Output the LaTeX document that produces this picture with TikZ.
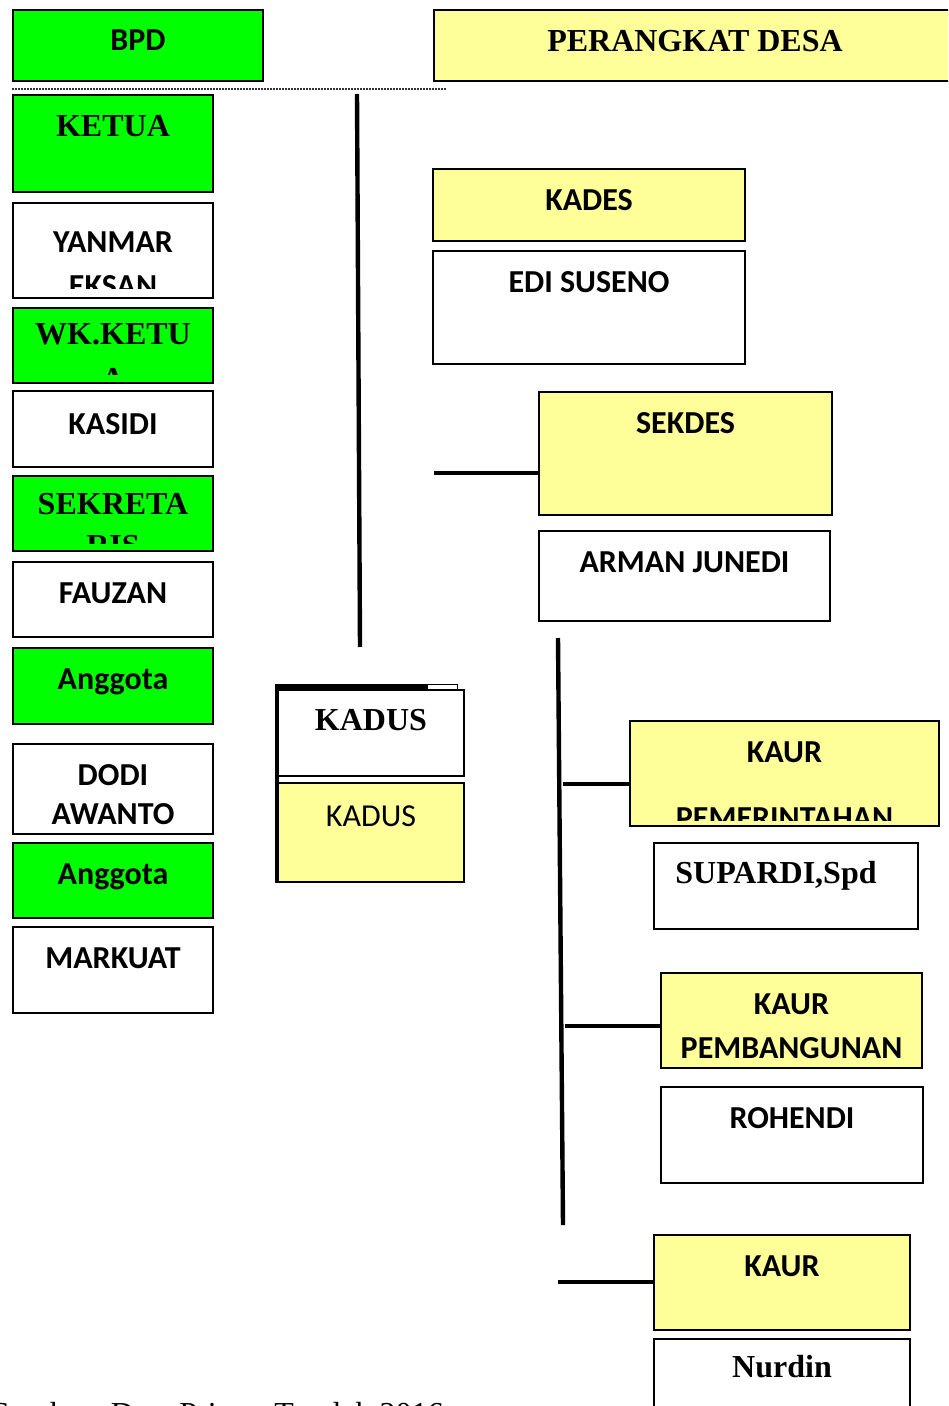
\documentclass[tikz,border=0pt]{standalone}
\usepackage{fontspec}
\setmainfont{Liberation Serif}
\newfontfamily\calfont{Carlito}
\usepackage{tikz}
\usetikzlibrary{positioning}
\definecolor{bpdGreen}{HTML}{00FF00}
\definecolor{desaYellow}{HTML}{FFFF99}
\tikzset{
  cell/.style={
    rectangle, draw=black, line width=1pt, inner sep=0pt,
    anchor=north west, fill=white,
  },
  sansTxt/.style={
    inner sep=0pt, align=center,
    font=\calfont\bfseries\fontsize{16pt}{22pt}\selectfont,
  },
  sansThin/.style={
    inner sep=0pt, align=center,
    font=\calfont\fontsize{16pt}{22pt}\selectfont,
  },
  serifTxt/.style={
    inner sep=0pt, align=center,
    font=\bfseries\fontsize{16pt}{22pt}\selectfont,
  },
  link/.style={line width=2.2pt, draw=black},
  sepline/.style={
    line width=1.2pt, draw=black!80, dash pattern=on 0.75pt off 0.75pt,
  },
}

\begin{document}
\begin{tikzpicture}[x=0.5pt, y=-0.5pt, node distance=10.5pt]
\useasboundingbox (0,0) rectangle (948,1406);
\clip (0,0) rectangle (948,1406);

% BPD side
\node[cell, fill=bpdGreen, minimum width=125pt, minimum height=35.5pt] (bpd) at (12,9) {};
\node[sansTxt, below=10.2pt of bpd.north] (bpdT) {BPD};

\coordinate (sepL) at (12,89);
\coordinate (sepR) at (447,89);
\draw[sepline] (sepL) -- (sepR);

\node[cell, fill=bpdGreen, minimum width=100pt, minimum height=48.5pt] (ketua) at (12,94) {};
\node[serifTxt, below=of ketua.north] (ketuaT) {KETUA};

\node[cell, minimum width=100pt, minimum height=47.5pt] (yanmar) at (12,202) {};
\begin{scope}
  \clip (yanmar.north west) rectangle ([yshift=5pt]yanmar.south east);
  \node[sansTxt, below=14.8pt of yanmar.north] (yanmarT) {YANMAR\\EKSAN};
\end{scope}

\node[cell, fill=bpdGreen, minimum width=100pt, minimum height=37.5pt] (wakil) at (12,307) {};
\begin{scope}
  \clip (wakil.north west) rectangle ([yshift=4.5pt]wakil.south east);
  \node[serifTxt, below=8.2pt of wakil.north] (wakilT) {WK.KETU\\[0.5pt]A};
\end{scope}

\node[cell, minimum width=100pt, minimum height=38pt] (kasidi) at (12,390) {};
\node[sansTxt, below=11.7pt of kasidi.north] (kasidiT) {KASIDI};

\node[cell, fill=bpdGreen, minimum width=100pt, minimum height=37.5pt] (sekre) at (12,475) {};
\begin{scope}
  \clip (sekre.north west) rectangle ([yshift=4.5pt]sekre.south east);
  \node[serifTxt, below=9pt of sekre.north] (sekreT) {SEKRETA\\[-1pt]RIS};
\end{scope}

\node[cell, minimum width=100pt, minimum height=37.5pt] (fauzan) at (12,561) {};
\node[sansTxt, below=of fauzan.north] (fauzanT) {FAUZAN};

\node[cell, fill=bpdGreen, minimum width=100pt, minimum height=38pt] (anggotaA) at (12,647) {};
\node[sansTxt, below=of anggotaA.north] (anggotaAT) {Anggota};

\node[cell, minimum width=100pt, minimum height=45pt] (dodi) at (12,743) {};
\node[sansTxt, below=of dodi.north] (dodiT) {DODI\\[-2.5pt]AWANTO};

\node[cell, fill=bpdGreen, minimum width=100pt, minimum height=37.5pt] (anggotaB) at (12,842) {};
\node[sansTxt, below=of anggotaB.north] (anggotaBT) {Anggota};

\node[cell, minimum width=100pt, minimum height=43pt] (markuat) at (12,926) {};
\node[sansTxt, below=of markuat.north] (markuatT) {MARKUAT};

\coordinate (bpdTop) at (357,94);
\coordinate (bpdBot) at (360,647);
\draw[link] (bpdTop) -- (bpdBot);

% kadus
\node[cell, minimum width=91pt, minimum height=4.25pt, line width=0.6pt] (kadusTab) at (275,684) {};
\node[cell, minimum width=93pt, minimum height=43pt] (kadusA) at (277,689) {};
\node[serifTxt, below=10.2pt of kadusA.north] (kadusAT) {KADUS};
\node[cell, fill=desaYellow, minimum width=93pt, minimum height=49.5pt] (kadusB) at (277,782) {};
\node[sansThin, below=11.5pt of kadusB.north] (kadusBT) {KADUS};
\fill (kadusTab.north west) rectangle ++(153,6.5);
\draw[link] (kadusA.north west) -- (kadusB.south west);

% perangkat desa
\node[cell, fill=desaYellow, minimum width=261pt, minimum height=35.5pt] (perangkat) at (433,9) {};
\node[serifTxt, below=10.7pt of perangkat.north] (perangkatT) {PERANGKAT DESA};

\node[cell, fill=desaYellow, minimum width=156pt, minimum height=36pt] (kades) at (432,168) {};
\node[sansTxt, below=of kades.north] (kadesT) {KADES};
\node[cell, minimum width=156pt, minimum height=56.5pt] (edi) at (432,250) {};
\node[sansTxt, below=of edi.north] (ediT) {EDI SUSENO};

\node[cell, fill=desaYellow, minimum width=146.5pt, minimum height=61.5pt] (sekdes) at (538,391) {};
\node[sansTxt, below=of sekdes.north] (sekdesT) {SEKDES};
\node[cell, minimum width=145.5pt, minimum height=45pt] (arman) at (538,530) {};
\node[sansTxt, below=of arman.north] (armanT) {ARMAN JUNEDI};

\coordinate (sekL) at (434,473);
\draw[link] (sekL) -- (sekL -| sekdes.west);

\coordinate (trunkTop) at (558,638);
\coordinate (trunkBot) at (563,1225);
\draw[link] (trunkTop) -- (trunkBot);

\node[cell, fill=desaYellow, minimum width=154.5pt, minimum height=52.5pt] (kaurPem) at (629,720) {};
\begin{scope}
  \clip (kaurPem.north west) rectangle ([yshift=3.5pt]kaurPem.south east);
  \node[sansTxt, below=of kaurPem.north] (kaurPemT) {KAUR\\[11.3pt]PEMERINTAHAN};
\end{scope}
\node[cell, minimum width=132pt, minimum height=43pt] (supardi) at (653,842) {};
\node[serifTxt, below=9.3pt of supardi.north, xshift=-5pt] (supardiT) {SUPARDI,Spd};

\coordinate (pemL) at (563,784);
\draw[link] (pemL) -- (pemL -| kaurPem.west);

\node[cell, fill=desaYellow, minimum width=130.5pt, minimum height=47.5pt] (kaurBang) at (660,972) {};
\node[sansTxt, below=of kaurBang.north] (kaurBangT) {KAUR\\PEMBANGUNAN};
\node[cell, minimum width=131pt, minimum height=48pt] (rohendi) at (660,1086) {};
\node[sansTxt, below=of rohendi.north] (rohendiT) {ROHENDI};

\coordinate (bangL) at (565,1026);
\draw[link] (bangL) -- (bangL -| kaurBang.west);

\node[cell, fill=desaYellow, minimum width=128pt, minimum height=47.5pt] (kaurUmum) at (653,1234) {};
\node[sansTxt, below=of kaurUmum.north] (kaurUmumT) {KAUR};
\node[cell, minimum width=128pt, minimum height=45pt] (nurdin) at (653,1338) {};
\node[serifTxt, below=8.5pt of nurdin.north] (nurdinT) {Nurdin};

\coordinate (umumL) at (558,1282);
\draw[link] (umumL) -- (umumL -| kaurUmum.west);

% source line, cut by the page edge
\node[inner sep=0pt, anchor=base west, font=\fontsize{16pt}{19pt}\selectfont] (sumber) at (-8.6,1424)
  {Sumber: Data Primer Terolah 2016};

\end{tikzpicture}
\end{document}
